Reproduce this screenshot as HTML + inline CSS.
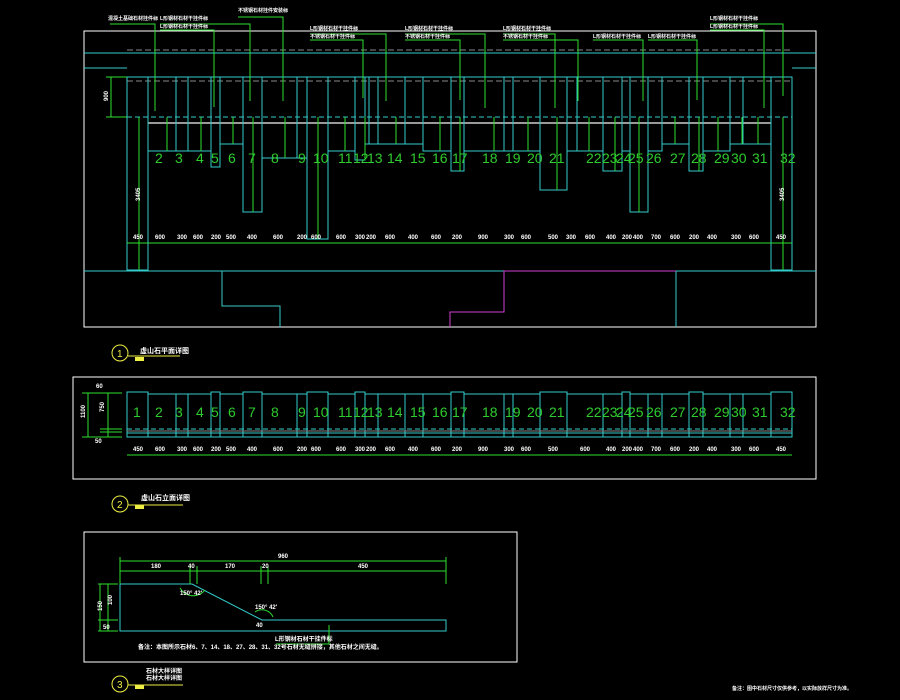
<!DOCTYPE html>
<html><head><meta charset="utf-8"><style>
html,body{margin:0;padding:0;background:#000;}
svg{display:block;}
text{font-family:"Liberation Sans","Noto Sans CJK SC",sans-serif;}
.n{fill:#2ecc2e;font-size:14px;}
.d{fill:#fff;font-size:6px;font-weight:bold;}
.c{fill:none;stroke:#3cc;stroke-width:1;}
.g{fill:none;stroke:#2ee02e;stroke-width:1;}
.w{fill:none;stroke:#fff;stroke-width:1;}
.t{fill:#fff;font-size:5px;font-weight:bold;}
</style></head><body>
<svg width="900" height="700" viewBox="0 0 900 700" xmlns="http://www.w3.org/2000/svg">
<rect width="900" height="700" fill="#000"/>
<!-- TOP SECTION -->
<rect x="84" y="31" width="732" height="296" class="w"/>
<line x1="84" y1="53" x2="816" y2="53" class="c"/>
<line x1="84" y1="68" x2="127" y2="68" class="c"/>
<line x1="792" y1="68" x2="816" y2="68" class="c"/>
<line x1="127" y1="50" x2="792" y2="50" stroke="#888" stroke-dasharray="6,3"/>
<line x1="127" y1="81" x2="792" y2="81" stroke="#888" stroke-dasharray="6,3"/>
<line x1="127" y1="77" x2="792" y2="77" class="c"/>
<line x1="127" y1="117" x2="792" y2="117" stroke="#3cc" stroke-dasharray="5,3"/>
<line x1="148" y1="123" x2="771" y2="123" stroke="#999" stroke-width="2"/>
<g class="c">
<rect x="127" y="77" width="21" height="193"/>
<rect x="148" y="77" width="28" height="74"/>
<rect x="176" y="77" width="12" height="74"/>
<rect x="188" y="77" width="23" height="74"/>
<rect x="211" y="77" width="9" height="90"/>
<rect x="220" y="77" width="23" height="67"/>
<rect x="243" y="77" width="19" height="135"/>
<rect x="262" y="77" width="35" height="81"/>
<rect x="297" y="77" width="10" height="81"/>
<rect x="307" y="77" width="21" height="162"/>
<rect x="328" y="77" width="27" height="74"/>
<rect x="355" y="77" width="10" height="83"/>
<rect x="365" y="77" width="4" height="67"/>
<rect x="369" y="77" width="9" height="67"/>
<rect x="378" y="77" width="27" height="67"/>
<rect x="405" y="77" width="18" height="67"/>
<rect x="423" y="77" width="28" height="74"/>
<rect x="451" y="77" width="13" height="94"/>
<rect x="464" y="77" width="40" height="74"/>
<rect x="504" y="77" width="9" height="74"/>
<rect x="513" y="77" width="27" height="74"/>
<rect x="540" y="77" width="27" height="113"/>
<rect x="567" y="77" width="10" height="74"/>
<rect x="577" y="77" width="26" height="74"/>
<rect x="603" y="77" width="19" height="94"/>
<rect x="622" y="77" width="8" height="74"/>
<rect x="630" y="77" width="18" height="135"/>
<rect x="648" y="77" width="14" height="74"/>
<rect x="662" y="77" width="27" height="67"/>
<rect x="689" y="77" width="14" height="94"/>
<rect x="703" y="77" width="27" height="74"/>
<rect x="730" y="77" width="13" height="67"/>
<rect x="743" y="77" width="28" height="67"/>
<rect x="771" y="77" width="21" height="193"/>
<polyline points="84,271 222,271 222,306 280,306 280,327"/>
<polyline points="676,271 816,271"/>
<line x1="676" y1="271" x2="676" y2="327"/>
<line x1="148" y1="271" x2="771" y2="271"/>
</g>
<polyline points="450,327 450,312 504,312 504,271 676,271" fill="none" stroke="#d040d0"/>
<!-- dims top -->
<line x1="127" y1="243" x2="792" y2="243" class="g"/>
<g class="g">
<line x1="106" y1="77" x2="127" y2="77"/><line x1="106" y1="117" x2="127" y2="117"/><line x1="111" y1="77" x2="111" y2="117"/>
<line x1="139" y1="117" x2="139" y2="270"/><line x1="783" y1="117" x2="783" y2="270"/>
<line x1="167" y1="117" x2="167" y2="151"/><line x1="201" y1="117" x2="201" y2="151"/><line x1="233" y1="117" x2="233" y2="144"/>
<line x1="253" y1="117" x2="253" y2="212"/><line x1="285" y1="117" x2="285" y2="158"/><line x1="318" y1="117" x2="318" y2="239"/>
<line x1="345" y1="117" x2="345" y2="151"/><line x1="365" y1="117" x2="365" y2="160"/><line x1="396" y1="117" x2="396" y2="144"/>
<line x1="440" y1="117" x2="440" y2="151"/><line x1="460" y1="117" x2="460" y2="171"/><line x1="494" y1="117" x2="494" y2="151"/>
<line x1="528" y1="117" x2="528" y2="151"/><line x1="557" y1="117" x2="557" y2="190"/><line x1="589" y1="117" x2="589" y2="151"/>
<line x1="615" y1="117" x2="615" y2="171"/><line x1="639" y1="117" x2="639" y2="212"/><line x1="675" y1="117" x2="675" y2="144"/>
<line x1="699" y1="117" x2="699" y2="171"/><line x1="718" y1="117" x2="718" y2="151"/><line x1="742" y1="117" x2="742" y2="144"/><line x1="758" y1="117" x2="758" y2="144"/>
<!-- leaders -->
<polyline points="110,24 155,24 155,111"/><polyline points="160,24 250,24 250,101"/><polyline points="160,30 214,30 214,107"/>
<polyline points="238,17 283,17 283,101"/><polyline points="310,34 386,34 386,101"/><polyline points="310,40 363,40 363,98"/>
<polyline points="405,34 485,34 485,108"/><polyline points="405,40 460,40 460,100"/><polyline points="503,34 555,34 555,108"/>
<polyline points="503,40 578,40 578,101"/><polyline points="593,40 643,40 643,101"/><polyline points="648,40 697,40 697,100"/>
<polyline points="710,24 783,24 783,96"/><polyline points="710,30 764,30 764,108"/>
</g>
<g class="t">
<text x="108" y="20">混凝土基础石材挂件标</text><text x="160" y="20">L形钢材石材干挂件标</text><text x="160" y="28">L形钢材石材干挂件标</text>
<text x="238" y="12">不锈钢石材挂件安装标</text><text x="310" y="30">L形钢材石材干挂件标</text><text x="310" y="38">不锈钢石材干挂件标</text>
<text x="405" y="30">L形钢材石材干挂件标</text><text x="405" y="38">不锈钢石材干挂件标</text><text x="503" y="30">L形钢材石材干挂件标</text>
<text x="503" y="38">不锈钢石材干挂件标</text><text x="593" y="38">L形钢材石材干挂件标</text><text x="648" y="38">L形钢材石材干挂件标</text>
<text x="710" y="20">L形钢材石材干挂件标</text><text x="710" y="28">L形钢材石材干挂件标</text>
</g>
<g class="d">
<text x="102" y="101" transform="rotate(-90 105 98)">900</text>
<text x="131" y="204" transform="rotate(-90 134 198)">3405</text><text x="775" y="204" transform="rotate(-90 778 198)">3405</text>
<text x="133" y="239">450</text><text x="155" y="239">600</text><text x="177" y="239">300</text><text x="193" y="239">600</text><text x="211" y="239">200</text>
<text x="226" y="239">500</text><text x="247" y="239">400</text><text x="273" y="239">600</text><text x="297" y="239">200</text><text x="311" y="239">600</text>
<text x="336" y="239">600</text><text x="355" y="239">300</text><text x="366" y="239">200</text><text x="385" y="239">600</text><text x="408" y="239">400</text>
<text x="431" y="239">600</text><text x="452" y="239">200</text><text x="478" y="239">900</text><text x="504" y="239">300</text><text x="521" y="239">600</text>
<text x="548" y="239">500</text><text x="566" y="239">300</text><text x="585" y="239">600</text><text x="606" y="239">400</text><text x="622" y="239">200</text>
<text x="633" y="239">400</text><text x="651" y="239">700</text><text x="670" y="239">600</text><text x="689" y="239">200</text><text x="707" y="239">400</text>
<text x="731" y="239">300</text><text x="749" y="239">600</text><text x="776" y="239">450</text>
</g>
<g class="n">
<text x="155" y="163">2</text><text x="175" y="163">3</text><text x="196" y="163">4</text><text x="211" y="163">5</text><text x="228" y="163">6</text>
<text x="248" y="163">7</text><text x="271" y="163">8</text><text x="298" y="163">9</text><text x="313" y="163">10</text><text x="338" y="163">11</text>
<text x="353" y="163">12</text><text x="367" y="163">13</text><text x="387" y="163">14</text><text x="410" y="163">15</text><text x="432" y="163">16</text>
<text x="452" y="163">17</text><text x="482" y="163">18</text><text x="505" y="163">19</text><text x="527" y="163">20</text><text x="549" y="163">21</text>
<text x="586" y="163">22</text><text x="602" y="163">23</text><text x="616" y="163">24</text><text x="628" y="163">25</text><text x="646" y="163">26</text>
<text x="670" y="163">27</text><text x="691" y="163">28</text><text x="714" y="163">29</text><text x="731" y="163">30</text><text x="752" y="163">31</text><text x="780" y="163">32</text>
</g>
<!-- label 1 -->
<circle cx="120" cy="353" r="8" fill="none" stroke="#ee4"/>
<text x="117" y="357" fill="#ee4" font-size="10">1</text>
<line x1="128" y1="356" x2="180" y2="356" stroke="#ee4"/><rect x="135" y="357" width="9" height="4" fill="#ee4"/>
<text x="140" y="353" class="t" style="font-size:7px">虚山石平面详图</text>

<!-- MIDDLE SECTION -->
<rect x="73" y="377" width="743" height="102" class="w"/>
<g class="c">
<rect x="127" y="392" width="21" height="45"/><rect x="148" y="394" width="28" height="43"/><rect x="176" y="394" width="12" height="43"/>
<rect x="188" y="394" width="23" height="43"/><rect x="211" y="392" width="9" height="45"/><rect x="220" y="394" width="23" height="43"/>
<rect x="243" y="392" width="19" height="45"/><rect x="262" y="394" width="35" height="43"/><rect x="297" y="394" width="10" height="43"/>
<rect x="307" y="392" width="21" height="45"/><rect x="328" y="394" width="27" height="43"/><rect x="355" y="392" width="10" height="45"/>
<rect x="365" y="394" width="13" height="43"/><rect x="378" y="394" width="27" height="43"/><rect x="405" y="394" width="18" height="43"/>
<rect x="423" y="394" width="28" height="43"/><rect x="451" y="392" width="13" height="45"/><rect x="464" y="394" width="40" height="43"/>
<rect x="504" y="394" width="9" height="43"/><rect x="513" y="394" width="27" height="43"/><rect x="540" y="392" width="27" height="45"/>
<rect x="567" y="394" width="36" height="43"/><rect x="603" y="394" width="19" height="43"/><rect x="622" y="392" width="8" height="45"/>
<rect x="630" y="394" width="18" height="43"/><rect x="648" y="394" width="14" height="43"/><rect x="662" y="394" width="27" height="43"/>
<rect x="689" y="392" width="14" height="45"/><rect x="703" y="394" width="27" height="43"/><rect x="730" y="394" width="13" height="43"/>
<rect x="743" y="394" width="28" height="43"/><rect x="771" y="392" width="21" height="45"/>
<line x1="127" y1="433" x2="792" y2="433"/>
</g>
<line x1="127" y1="429" x2="792" y2="429" stroke="#3cc" stroke-dasharray="5,3"/>
<line x1="127" y1="431" x2="792" y2="431" stroke="#888"/>
<g class="g">
<line x1="127" y1="455" x2="792" y2="455"/>
<line x1="82" y1="393" x2="122" y2="393"/><line x1="82" y1="437" x2="122" y2="437"/><line x1="88" y1="393" x2="88" y2="437"/><line x1="108" y1="393" x2="108" y2="437"/>
<line x1="100" y1="429" x2="122" y2="429"/><line x1="100" y1="432" x2="122" y2="432"/>
</g>
<g class="d">
<text x="77" y="420" transform="rotate(-90 80 415)">1100</text><text x="96" y="412" transform="rotate(-90 100 408)">750</text>
<text x="96" y="388">60</text><text x="95" y="443">50</text>
<text x="133" y="451">450</text><text x="155" y="451">600</text><text x="177" y="451">300</text><text x="193" y="451">600</text><text x="211" y="451">200</text>
<text x="226" y="451">500</text><text x="247" y="451">400</text><text x="273" y="451">600</text><text x="297" y="451">200</text><text x="311" y="451">600</text>
<text x="336" y="451">600</text><text x="355" y="451">300</text><text x="366" y="451">200</text><text x="385" y="451">600</text><text x="408" y="451">400</text>
<text x="431" y="451">600</text><text x="452" y="451">200</text><text x="478" y="451">900</text><text x="504" y="451">300</text><text x="521" y="451">600</text>
<text x="548" y="451">500</text><text x="580" y="451">600</text><text x="606" y="451">400</text><text x="622" y="451">200</text>
<text x="633" y="451">400</text><text x="651" y="451">700</text><text x="670" y="451">600</text><text x="689" y="451">200</text><text x="707" y="451">400</text>
<text x="731" y="451">300</text><text x="749" y="451">600</text><text x="776" y="451">450</text>
</g>
<g class="n">
<text x="133" y="417">1</text><text x="155" y="417">2</text><text x="175" y="417">3</text><text x="196" y="417">4</text><text x="211" y="417">5</text><text x="228" y="417">6</text>
<text x="248" y="417">7</text><text x="271" y="417">8</text><text x="298" y="417">9</text><text x="313" y="417">10</text><text x="338" y="417">11</text>
<text x="353" y="417">12</text><text x="367" y="417">13</text><text x="387" y="417">14</text><text x="410" y="417">15</text><text x="432" y="417">16</text>
<text x="452" y="417">17</text><text x="482" y="417">18</text><text x="505" y="417">19</text><text x="527" y="417">20</text><text x="549" y="417">21</text>
<text x="586" y="417">22</text><text x="602" y="417">23</text><text x="616" y="417">24</text><text x="628" y="417">25</text><text x="646" y="417">26</text>
<text x="670" y="417">27</text><text x="691" y="417">28</text><text x="714" y="417">29</text><text x="731" y="417">30</text><text x="752" y="417">31</text><text x="780" y="417">32</text>
</g>
<circle cx="120" cy="504" r="8" fill="none" stroke="#ee4"/>
<text x="117" y="508" fill="#ee4" font-size="10">2</text>
<line x1="128" y1="505" x2="183" y2="505" stroke="#ee4"/><rect x="135" y="505" width="9" height="4" fill="#ee4"/>
<text x="141" y="500" class="t" style="font-size:7px">虚山石立面详图</text>

<!-- BOTTOM SECTION -->
<rect x="84" y="532" width="433" height="130" class="w"/>
<polygon points="120,584 192,584 262,620 446,620 446,631 120,631" class="c"/>
<g class="g">
<line x1="120" y1="561" x2="446" y2="561"/><line x1="120" y1="571" x2="446" y2="571"/>
<line x1="120" y1="557" x2="120" y2="584"/><line x1="446" y1="557" x2="446" y2="584"/>
<line x1="190" y1="566" x2="190" y2="584"/><line x1="197" y1="566" x2="197" y2="584"/><line x1="261" y1="566" x2="261" y2="584"/><line x1="268" y1="566" x2="268" y2="584"/>
<line x1="98" y1="584" x2="118" y2="584"/><line x1="98" y1="631" x2="118" y2="631"/><line x1="98" y1="620" x2="118" y2="620"/>
<line x1="100" y1="584" x2="100" y2="631"/><line x1="108" y1="584" x2="108" y2="631"/>
<path d="M180,588 A15,15 0 0 0 205,590"/><path d="M255,612 A12,12 0 0 1 273,617"/>
<polyline points="276,644 329,644 329,625"/>
</g>
<g class="d">
<text x="278" y="558">960</text><text x="151" y="568">180</text><text x="188" y="568">40</text><text x="225" y="568">170</text><text x="262" y="568">20</text><text x="358" y="568">450</text>
<text x="92" y="615" transform="rotate(-90 95 608)">150</text><text x="104" y="607" transform="rotate(-90 107 602)">100</text><text x="103" y="629">50</text>
<text x="180" y="595">150° 42'</text><text x="255" y="609">150° 42'</text><text x="256" y="627">40</text>
<text x="275" y="641">L形钢材石材干挂件标</text>
<text x="138" y="649">备注：本图所示石材6、7、14、18、27、28、31、32号石材无缝拼接，其他石材之间无缝。</text>
</g>
<circle cx="120" cy="684" r="8" fill="none" stroke="#ee4"/>
<text x="117" y="688" fill="#ee4" font-size="10">3</text>
<line x1="128" y1="685" x2="183" y2="685" stroke="#ee4"/><rect x="135" y="685" width="9" height="4" fill="#ee4"/>
<text x="146" y="673" class="t" style="font-size:6px">石材大样详图</text>
<text x="146" y="680" class="t" style="font-size:6px">石材大样详图</text>
<text x="732" y="690" class="t">备注：图中石材尺寸仅供参考，以实际放样尺寸为准。</text>
</svg>
</body></html>
